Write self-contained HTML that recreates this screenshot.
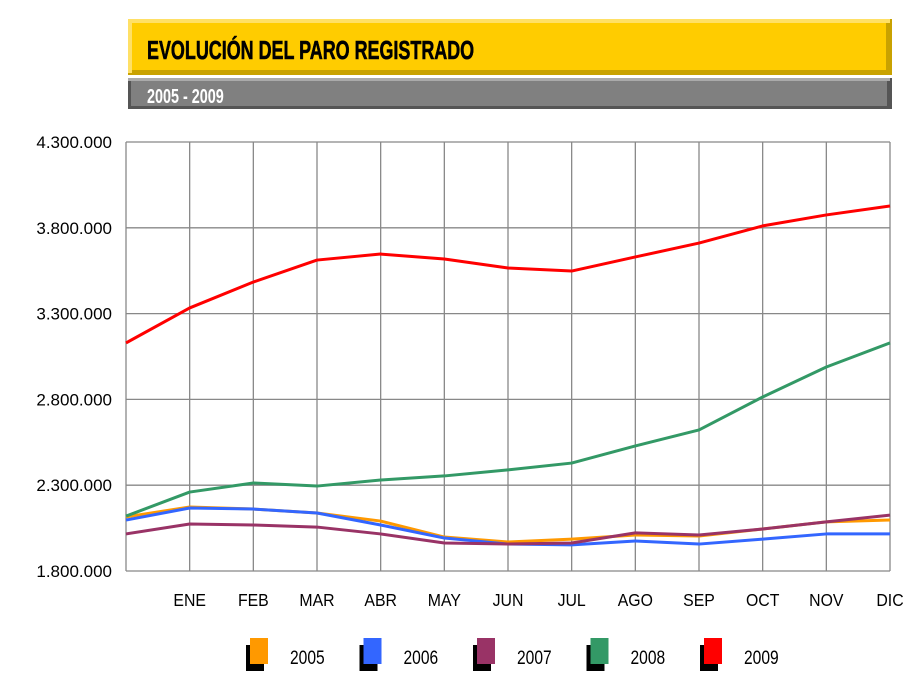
<!DOCTYPE html>
<html><head><meta charset="utf-8"><style>
body{margin:0;width:913px;height:687px;background:#fff;overflow:hidden;font-family:"Liberation Sans",sans-serif}
</style></head><body>
<svg width="913" height="687" xmlns="http://www.w3.org/2000/svg">
<g>
<rect x="128" y="19" width="764" height="56" fill="#c9a200"/>
<rect x="128" y="19" width="762" height="4" fill="#ffe066"/>
<rect x="128" y="19" width="4" height="54" fill="#ffe066"/>
<rect x="132" y="23" width="754" height="47" fill="#ffcc00"/>
<text x="147" y="59" font-size="26" font-weight="bold" fill="#000" stroke="#000" stroke-width="0.6" transform="translate(147 0) scale(0.69 1) translate(-147 0)">EVOLUCIÓN DEL PARO REGISTRADO</text>
</g>
<g>
<rect x="128" y="78" width="764" height="31" fill="#555"/>
<rect x="128" y="78" width="762" height="3" fill="#aaa"/>
<rect x="131" y="81" width="756" height="25" fill="#808080"/>
<text x="147" y="103" font-size="20" font-weight="bold" fill="#fff" transform="translate(147 0) scale(0.72 1) translate(-147 0)">2005 - 2009</text>
</g>
<g id="grid"></g><g id="lines"></g><g id="labels"></g><g id="legend"></g>
</svg>
<script>
const months=["","ENE","FEB","MAR","ABR","MAY","JUN","JUL","AGO","SEP","OCT","NOV","DIC"];
const yTicks=[1800000,2300000,2800000,3300000,3800000,4300000];
const yTickLabels=["1.800.000","2.300.000","2.800.000","3.300.000","3.800.000","4.300.000"];
const seriesNames=["2005","2006","2007","2008","2009"];
const seriesColors=["#ff9900","#3366ff","#993366","#339966","#ff0000"];
const s2005=[2115000,2173000,2161000,2138000,2091000,1998000,1969000,1986000,2010000,2004000,2045000,2086000,2097000];
const s2006=[2097000,2167000,2161000,2138000,2068000,1992000,1957000,1952000,1975000,1957000,1986000,2016000,2016000];
const s2007=[2016000,2074000,2068000,2056000,2016000,1963000,1957000,1963000,2022000,2010000,2045000,2086000,2126000];
const s2008=[2120000,2260000,2313000,2295000,2330000,2354000,2389000,2429000,2529000,2622000,2814000,2989000,3129000];
const s2009=[3129000,3333000,3484000,3612000,3647000,3618000,3566000,3548000,3630000,3711000,3811000,3875000,3927000];
const series=[s2005,s2006,s2007,s2008,s2009];
const NS="http://www.w3.org/2000/svg";
const X0=126,X1=890,Y0=571,Y1=142;
const xs=i=>X0+(X1-X0)*i/(months.length-1);
const ys=v=>Y0-(v-1800000)/(4300000-1800000)*(Y0-Y1);
function mk(t,a,p){const e=document.createElementNS(NS,t);for(const k in a)e.setAttribute(k,a[k]);p.appendChild(e);return e;}
const g=document.getElementById('grid'),L=document.getElementById('lines'),lb=document.getElementById('labels'),lg=document.getElementById('legend');
yTicks.forEach((v,i)=>{
 const l=mk('line',{x1:X0,x2:X1,y1:ys(v),y2:ys(v),stroke:'#888','stroke-width':1.3},g);
 
 
 const t=mk('text',{x:112,y:ys(v)+6,'text-anchor':'end','font-size':17,fill:'#000'},lb);
 t.textContent=yTickLabels[i];
 
 
});
months.forEach((m,i)=>{
 const l=mk('line',{x1:xs(i),x2:xs(i),y1:Y1,y2:Y0,stroke:'#888','stroke-width':1.3},g);
 
 
 if(m){const t=mk('text',{x:0,y:606,'text-anchor':'middle','font-size':18,fill:'#000',transform:'translate('+xs(i)+' 0) scale(0.88 1)'},lb);
 t.textContent=m;
 
 }
});
series.forEach((s,k)=>{
 const p=mk('polyline',{points:s.map((v,i)=>xs(i)+','+ys(v)).join(' '),fill:'none',stroke:seriesColors[k],'stroke-width':3,'stroke-linejoin':'round'},L);
 
 
});
seriesNames.forEach((n,k)=>{
 const x=246+k*113.5;
 const grp=mk('g',{},lg);
 
 
 mk('rect',{x:x,y:645,width:18,height:26,fill:'#000'},grp);
 mk('rect',{x:x+4,y:638,width:18,height:26,fill:seriesColors[k]},grp);
 const t=mk('text',{x:0,y:664,'font-size':19,fill:'#000',transform:'translate('+(x+44)+' 0) scale(0.82 1)'},grp);
 t.textContent=n;
});
</script>
</body></html>
